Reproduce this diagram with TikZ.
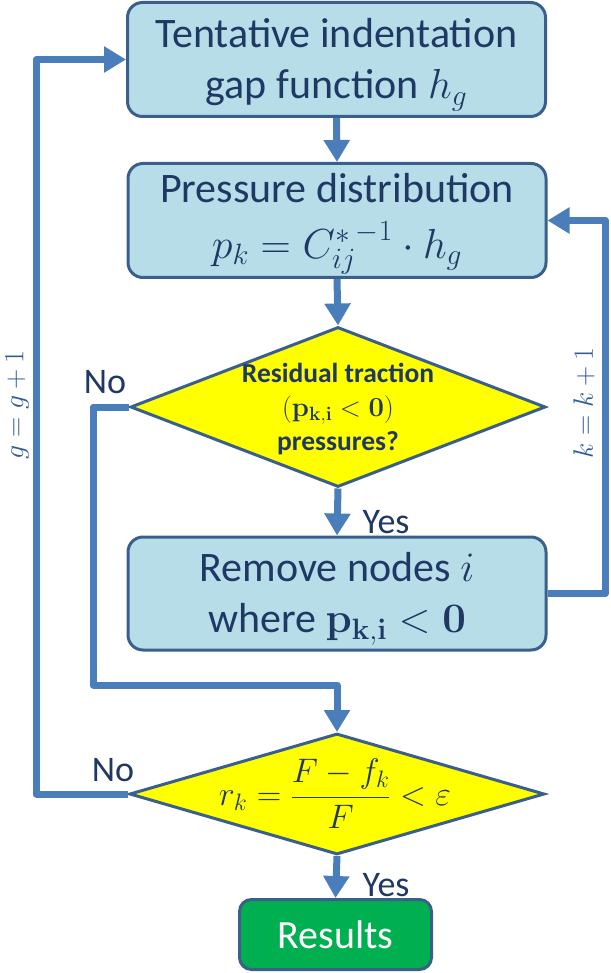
\RequirePackage{fix-cm}
\documentclass[tikz,border=0pt]{standalone}
\usepackage[no-math]{fontspec}
\setmainfont{Carlito}
\usetikzlibrary{arrows.meta,shapes.geometric}
\definecolor{boxfill}{HTML}{B7DEE8}
\definecolor{boxline}{HTML}{3A5F8C}
\definecolor{flow}{HTML}{4A7EBB}
\definecolor{txt}{HTML}{1F3864}
\definecolor{dfill}{HTML}{FFFF00}
\definecolor{resfill}{HTML}{00B050}
\definecolor{lbl}{HTML}{2E5B94}
\newcommand{\topstrut}{\rule{0pt}{40pt}}
\begin{document}
\begin{tikzpicture}[x=1pt,y=-1pt,
  procbox/.style={draw=boxline, line width=3pt, fill=boxfill, rounded corners=15pt,
    minimum width=418pt, minimum height=114pt, inner sep=0pt, text=txt, align=center,
    font=\fontsize{42}{51}\selectfont},
  decision/.style={diamond, draw=boxline, line width=3pt, fill=dfill, inner sep=0pt,
    minimum width=415pt},
  dtext/.style={text=txt, align=center, inner sep=0pt},
  flowline/.style={draw=flow, line width=7pt, line join=round},
  flowarrow/.style={flowline, -{Triangle[width=25pt,length=22pt]}},
  yesno/.style={text=txt, inner sep=0pt, font=\fontsize{36}{40}\selectfont},
  looplabel/.style={text=lbl, inner sep=0pt, rotate=90, font=\fontsize{28}{34}\selectfont}
]
\useasboundingbox (0,0) rectangle (610,973);

\node[procbox] (b1) at (336.5,59.5) {\topstrut Tentative indentation\\gap function $h_g$};
\node[procbox] (b2) at (337,220.5) {\rule{0pt}{36pt}Pressure distribution\\[5pt]$p_k = {C^{*}_{ij}}^{-1}\cdot h_g$};
\node[decision, minimum height=160pt] (d1) at (338,407) {};
\node[dtext, font=\bfseries\fontsize{27.5}{34}\selectfont] (d1t) at (338,409)
  {Residual traction\\$\mathbf{(p_{k,i}} < \mathbf{0)}$\\pressures?};
\node[procbox, minimum height=113pt] (b3) at (337,593.5) {\topstrut Remove nodes $i$\\where $\mathbf{p_{k,i}} < \mathbf{0}$};
\node[decision, minimum height=121pt] (d2) at (337,794) {};
\node[dtext, font=\fontsize{34}{40}\selectfont] (d2t) at (335,794)
  {$\displaystyle r_k = \frac{F - f_k}{F} < \varepsilon$};
\node[draw=boxline, line width=3pt, fill=resfill, rounded corners=12pt,
  minimum width=192pt, minimum height=70pt, inner sep=0pt, text=white,
  font=\fontsize{40}{48}\selectfont] (res) at (335.5,934.5) {Results};

\node[yesno] (no1) at (105,382) {No};
\node[yesno] (yes1) at (386,522) {Yes};
\node[yesno] (no2) at (113,770) {No};
\node[yesno] (yes2) at (386,885) {Yes};
\node[looplabel] (glab) at (17,405) {$g = g + 1$};
\node[looplabel] (klab) at (584,403) {$k = k + 1$};

\draw[flowarrow] (b1.south) -- (b2.north);
\draw[flowarrow] (b2.south) -- (d1.north);
\draw[flowarrow] (d1.south) -- (b3.north);
\draw[flowarrow] (b3.east) -- ++(58,0) |- (b2.east);
\draw[flowarrow] (d1.west) -| (93,685) -| (d2.north);
\draw[flowarrow] (d2.west) -- ++(-92,0) |- (b1.west);
\draw[flowarrow] (d2.south) -- (res.north);
\end{tikzpicture}
\end{document}
